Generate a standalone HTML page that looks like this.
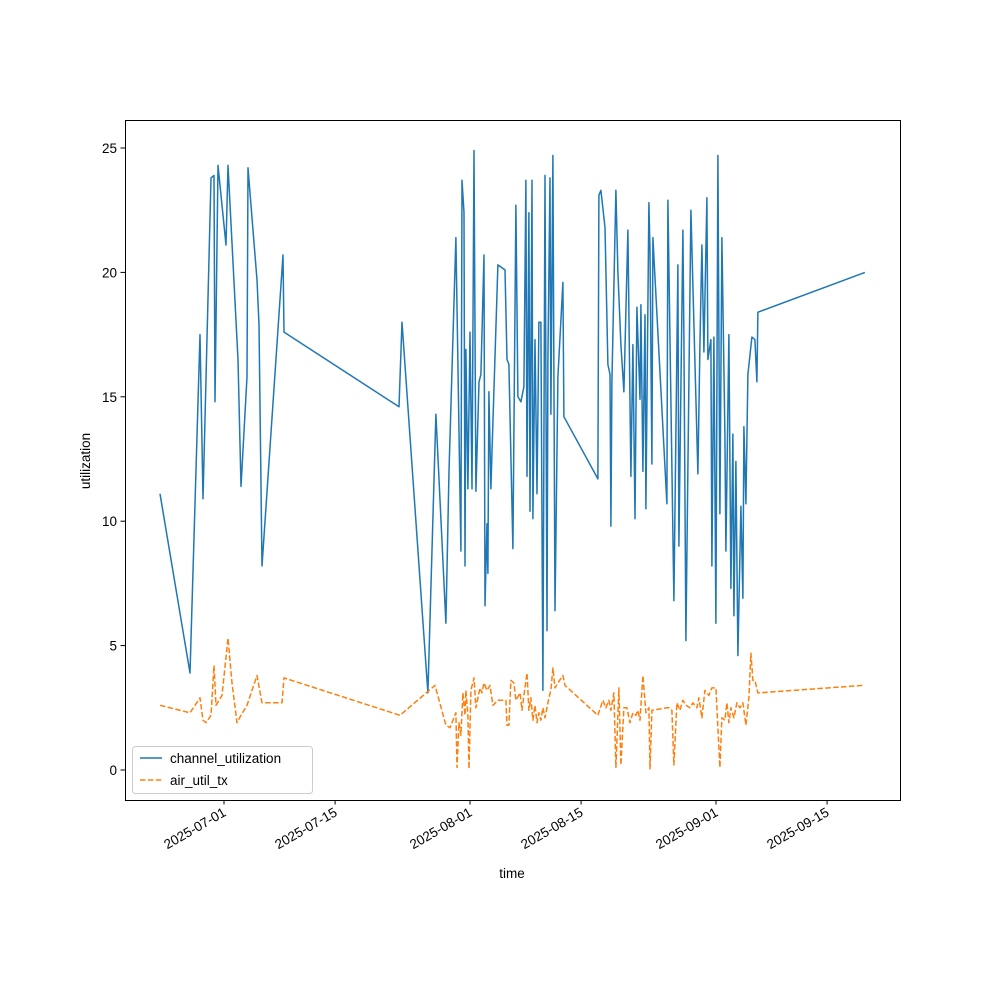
<!DOCTYPE html>
<html><head><meta charset="utf-8"><style>
body{margin:0;background:#fff}
svg{font-family:"Liberation Sans","DejaVu Sans",sans-serif}
</style></head><body>
<svg id="chart" width="1000" height="1000" viewBox="0 0 1000 1000">
<rect x="0" y="0" width="1000" height="1000" fill="#fff"/>
<g id="plot"></g>
<rect x="125.5" y="120.5" width="775" height="680" fill="none" stroke="#000" stroke-width="1"/>
<g id="xticks"></g><g id="yticks"></g>
<text x="512" y="878" font-size="13.5" text-anchor="middle">time</text>
<text x="90" y="461" font-size="13.5" text-anchor="middle" transform="rotate(-90 90 461)">utilization</text>
<g>
<rect x="132.5" y="746.5" width="180" height="47" rx="3" fill="#fff" fill-opacity="0.8" stroke="#ccc"/>
<g>
<line x1="140" y1="758" x2="162" y2="758" stroke="#1f77b4" stroke-width="1.5"/>
<text x="170" y="763" font-size="13.5">channel_utilization</text></g>
<g>
<line x1="140" y1="780" x2="162" y2="780" stroke="#ff7f0e" stroke-width="1.5" stroke-dasharray="5.5 2.4"/>
<text x="170" y="785" font-size="13.5">air_util_tx</text></g>
</g>
</svg>
<script>
// days since 2025-07-01
const chDays=[-8.06,-4.28,-3.02,-2.65,-1.64,-1.26,-1.13,-0.76,0.25,0.50,1.76,2.14,2.90,3.02,4.16,4.41,4.79,7.43,7.56,22.05,22.43,25.70,26.71,27.97,28.35,29.23,29.86,29.99,30.24,30.37,30.49,30.74,31.00,31.25,31.50,31.75,32.13,32.38,32.76,32.89,33.14,33.26,33.39,33.64,33.77,34.52,35.41,35.66,35.91,36.41,36.79,37.04,37.42,37.80,38.05,38.18,38.43,38.56,38.81,38.93,39.19,39.44,39.69,39.94,40.19,40.45,40.70,40.82,41.08,41.20,41.45,41.71,42.08,42.71,42.84,47.12,47.25,47.50,48.01,48.38,48.64,48.76,48.89,49.39,49.64,50.02,50.40,50.90,51.28,51.53,51.79,52.04,52.42,52.54,52.79,53.05,53.17,53.55,53.68,53.93,54.05,55.82,55.94,56.70,57.20,57.33,57.83,57.96,58.21,58.84,59.72,59.98,60.23,60.48,60.86,60.98,61.36,61.49,61.74,61.99,62.24,62.50,62.75,63.13,63.25,63.63,63.88,64.13,64.26,64.51,64.76,65.14,65.39,65.52,65.77,66.02,66.53,66.91,67.16,67.28,80.77];
const chVals=[11.1,3.9,17.5,10.9,23.8,23.9,14.8,24.3,21.1,24.3,16.5,11.4,15.8,24.2,19.7,17.9,8.2,20.7,17.6,14.6,18.0,3.1,14.3,5.9,12.0,21.4,8.8,23.7,22.4,8.2,16.9,11.3,17.6,11.3,24.9,11.2,15.6,15.9,20.7,6.6,9.9,7.9,15.2,11.3,12.8,20.3,20.1,16.5,16.3,8.9,22.7,15.0,14.8,15.4,23.7,11.8,22.4,10.4,23.7,10.1,17.3,11.1,18.0,18.0,3.2,23.9,5.6,16.5,23.8,14.3,24.7,6.4,15.8,19.6,14.2,11.7,23.1,23.3,21.8,16.3,15.9,9.8,15.6,23.3,20.0,17.1,15.2,21.7,11.8,17.1,10.1,18.6,14.9,18.7,12.0,18.3,10.5,22.8,20.9,12.3,21.4,10.7,22.9,6.8,20.3,9.0,21.7,17.4,5.2,22.5,11.9,17.0,21.1,16.8,23.0,16.5,17.3,8.2,17.4,5.9,24.7,10.3,21.4,13.5,8.8,17.5,7.3,13.5,6.2,12.4,4.6,10.6,6.9,13.8,10.7,15.9,17.4,17.3,15.6,18.4,20.0];
const airDays=[-8.06,-4.28,-3.02,-2.65,-2.27,-1.64,-1.26,-1.01,-0.25,0.50,1.01,1.64,2.14,2.90,4.16,4.79,7.31,7.56,22.18,26.59,27.97,28.48,29.23,29.36,29.61,29.86,30.11,30.37,30.49,30.74,30.87,31.12,31.50,31.75,32.26,32.51,32.76,33.14,33.52,33.89,34.52,35.53,35.66,35.91,36.16,36.54,36.79,37.30,37.55,37.80,38.18,38.43,38.68,38.93,39.19,39.44,39.69,39.94,40.19,40.45,40.70,40.95,41.20,41.45,41.71,42.08,42.71,42.97,47.12,47.75,48.13,48.51,48.76,49.14,49.39,49.77,50.02,50.40,50.78,51.16,51.53,51.91,52.16,52.42,52.79,53.17,53.55,53.68,53.93,55.82,56.07,56.45,56.70,57.08,57.46,57.83,58.21,58.72,59.09,59.60,59.85,60.23,60.61,61.11,61.49,61.99,62.50,62.75,63.13,63.38,63.63,63.88,64.26,64.64,65.02,65.39,65.77,66.15,66.40,66.65,66.91,67.28,80.51];
const airVals=[2.6,2.3,2.9,2.0,1.9,2.2,4.2,2.6,3.0,5.3,3.5,1.9,2.2,2.6,3.8,2.7,2.7,3.7,2.2,3.4,1.8,1.7,2.3,0.1,1.9,1.4,3.1,2.2,3.2,2.2,0.05,3.2,3.7,2.5,3.3,3.1,3.5,3.2,3.4,2.6,2.8,2.8,1.8,1.8,3.6,3.5,2.8,3.1,2.4,3.0,3.9,2.4,2.9,2.0,2.6,1.9,2.3,2.0,2.5,2.1,2.5,2.9,3.2,4.1,3.3,3.5,3.8,3.4,2.2,2.8,2.5,2.8,2.4,3.1,0.1,3.3,0.2,2.5,2.5,1.9,2.3,2.2,2.4,2.0,3.8,2.3,2.5,0.05,2.4,2.5,2.5,2.4,0.2,2.7,2.4,2.8,2.6,2.5,2.7,2.5,2.9,2.1,3.2,3.0,3.3,3.3,0.1,2.1,2.0,2.7,1.9,2.5,2.1,2.7,2.5,2.7,1.8,2.9,4.7,3.6,3.6,3.1,3.4];
const xTickDays=[0,14,31,45,62,76];
const xTickLabels=["2025-07-01","2025-07-15","2025-08-01","2025-08-15","2025-09-01","2025-09-15"];
const yTicks=[0,5,10,15,20,25];

const NS="http://www.w3.org/2000/svg";
const xs=d=>224+d*7.935;
const ys=v=>770-v*24.88;
function mk(t,a,p){const e=document.createElementNS(NS,t);for(const k in a)e.setAttribute(k,a[k]);p.appendChild(e);return e;}
const plot=document.getElementById('plot');
const p1=mk('path',{d:chDays.map((d,i)=>(i?'L':'M')+xs(d).toFixed(1)+','+ys(chVals[i]).toFixed(1)).join(''),fill:'none',stroke:'#1f77b4','stroke-width':1.5,'stroke-linejoin':'round'},plot);


const p2=mk('path',{d:airDays.map((d,i)=>(i?'L':'M')+xs(d).toFixed(1)+','+ys(airVals[i]).toFixed(1)).join(''),fill:'none',stroke:'#ff7f0e','stroke-width':1.5,'stroke-dasharray':'5.5 2.4','stroke-linejoin':'round'},plot);


const xg=document.getElementById('xticks');
xTickDays.forEach((d,i)=>{const x=xs(d);
 const l=mk('line',{x1:x,y1:800,x2:x,y2:804.5,stroke:'#000'},xg);
 
 
 const t=mk('text',{x:x+3,y:815,'font-size':13.5,'text-anchor':'end',transform:`rotate(-30 ${x+3} 815)`},xg);
 t.textContent=xTickLabels[i];
 
 
});
const yg=document.getElementById('yticks');
yTicks.forEach(v=>{const y=ys(v);
 const l=mk('line',{x1:120.5,y1:y,x2:125,y2:y,stroke:'#000'},yg);
 
 
 const t=mk('text',{x:117,y:y+5,'font-size':13.5,'text-anchor':'end'},yg);
 t.textContent=v;
 
 
});
</script>
</body></html>
